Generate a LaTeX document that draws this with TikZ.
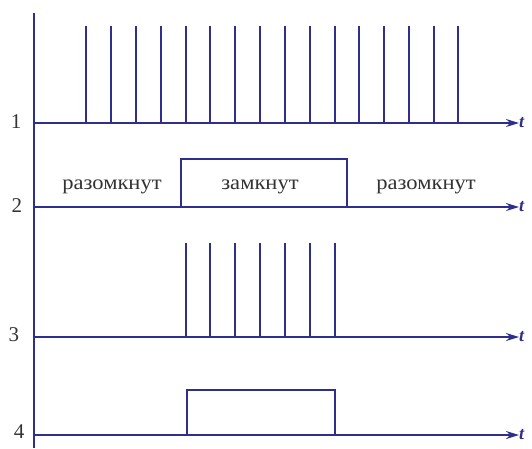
\documentclass[tikz,border=0pt]{standalone}
\usepackage{fontspec}
\setmainfont{Liberation Serif}
\newfontfamily\statefont[FakeStretch=1.1]{Liberation Serif}
\usepackage{tikz}
\usetikzlibrary{arrows.meta}
\definecolor{sigLine}{HTML}{2E2E8C}
\definecolor{sigText}{HTML}{333333}

\begin{document}
\begin{tikzpicture}[
  x=1pt, y=-1pt,
  axis/.style={line width=1.6pt, draw=sigLine, -{Stealth[length=13pt, width=8pt]}},
  trace/.style={line width=1.6pt, draw=sigLine},
  num/.style={font=\fontsize{21}{21}\selectfont, text=sigText, inner sep=0pt},
  tlab/.style={font=\fontsize{18}{18}\selectfont\itshape\bfseries, text=sigLine, anchor=west, inner sep=0pt},
  state/.style={font=\statefont\fontsize{20.5}{20.5}\selectfont, text=sigText, inner sep=0pt}
]
\useasboundingbox (0,0) rectangle (532,448);
\coordinate (top) at (34,13);
\coordinate (bot) at (34,448);
\coordinate (o1) at (34,123);
\coordinate (e1) at (519,123);
\coordinate (o2) at (34,207);
\coordinate (e2) at (519,207);
\coordinate (o3) at (34,337);
\coordinate (e3) at (519,337);
\coordinate (o4) at (34,435);
\coordinate (e4) at (519,435);

\draw[trace] (top) -- (bot);
\draw[axis] (o1) -- (e1);
\draw[axis] (o2) -- (e2);
\draw[axis] (o3) -- (e3);
\draw[axis] (o4) -- (e4);

\node[num] (n1) at (16,122) {1};
\node[num] (n2) at (17,206) {2};
\node[num] (n3) at (14,335) {3};
\node[num] (n4) at (19,432) {4};
\node[tlab] (t1) at (e1) {t};
\node[tlab] (t2) at (e2) {t};
\node[tlab] (t3) at (e3) {t};
\node[tlab] (t4) at (e4) {t};

% pulse train
\foreach \px in {86,111,136,161,186,210,235,260,285,310,335,359,384,409,434,458}
  \draw[trace] (\px,123) -- (\px,26);
% switch state
\draw[trace] (181,207) |- (347,159) -- (347,207);
\node[state] (open1) at (112,187) {разомкнут};
\node[state] (closed) at (260,187) {замкнут};
\node[state] (open2) at (426,187) {разомкнут};
% gated pulses
\foreach \px in {186,210,235,260,285,310,335}
  \draw[trace] (\px,337) -- (\px,243);
% gate window
\draw[trace] (187,435) |- (335,390) -- (335,435);
\end{tikzpicture}
\end{document}
